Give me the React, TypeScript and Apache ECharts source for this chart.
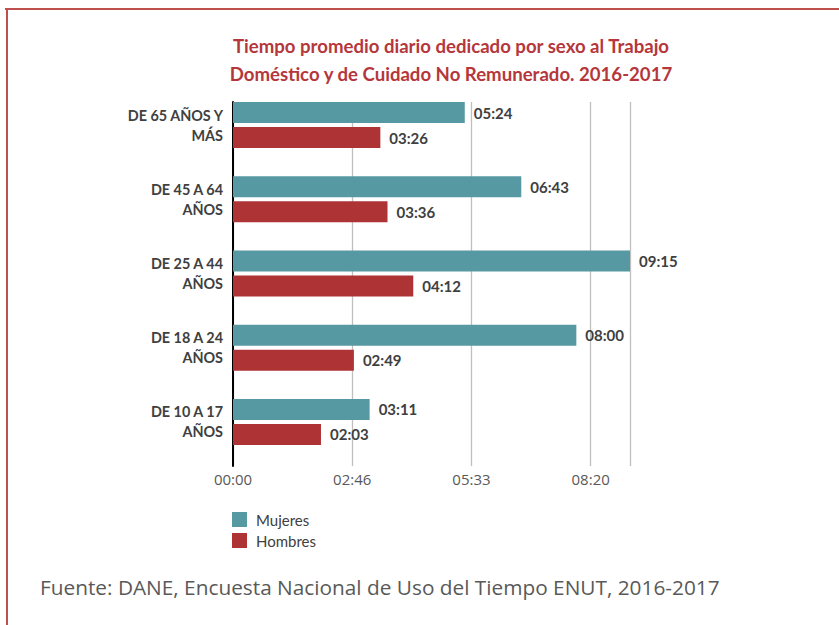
import React, { useEffect, useRef } from "react";
import * as echarts from "echarts";

// Categories (top to bottom)
const categories = [
  "DE 65 AÑOS Y\nMÁS",
  "DE 45 A 64\nAÑOS",
  "DE 25 A 44\nAÑOS",
  "DE 18 A 24\nAÑOS",
  "DE 10 A 17\nAÑOS",
];
// Values as "HH:MM"
const mujeres = ["05:24", "06:43", "09:15", "08:00", "03:11"];
const hombres = ["03:26", "03:36", "04:12", "02:49", "02:03"];
const axisMax = "09:15";
const tickInterval = 10000; // seconds (02:46:40)

const toSec = (s: string) => {
  const [h, m] = s.split(":").map(Number);
  return h * 3600 + m * 60;
};
const fmt = (sec: number) => {
  const h = Math.floor(sec / 3600);
  const m = Math.floor((sec % 3600) / 60);
  return String(h).padStart(2, "0") + ":" + String(m).padStart(2, "0");
};

const TEAL = "#5799a3";
const RED = "#ae3334";
const TEXT = "#404040";

export default function App() {
  const ref = useRef<HTMLDivElement>(null);
  useEffect(() => {
    const chart = echarts.init(ref.current!, null, { renderer: "svg" });
    const maxSec = toSec(axisMax);
    const labelStyle = {
      show: true,
      position: "right" as const,
      distance: 9,
      formatter: (p: any) => fmt(p.value),
      color: TEXT,
      fontFamily: "Lato",
      fontWeight: "bold" as const,
      fontSize: 15,
    };
    chart.setOption({
      animation: false,
      backgroundColor: "#ffffff",
      title: {
        text: "Tiempo promedio diario dedicado por sexo al Trabajo\nDoméstico y de Cuidado No Remunerado. 2016-2017",
        left: 446,
        top: 27,
        textAlign: "center",
        textStyle: {
          color: "#b5373b",
          fontFamily: "Lato",
          fontWeight: "bold",
          fontSize: 18.6,
          lineHeight: 28,
        },
      },
      legend: {
        data: ["Mujeres", "Hombres"],
        orient: "vertical",
        left: 232,
        top: 512,
        padding: 0,
        itemWidth: 15,
        itemHeight: 15,
        itemGap: 6,
        icon: "rect",
        textStyle: {
          color: TEXT,
          fontFamily: "Lato",
          fontSize: 15,
          padding: [0, 0, 0, 4],
        },
      },
      graphic: [
        {
          type: "line",
          shape: { x1: 5, y1: 9, x2: 839, y2: 9 },
          style: { stroke: "#c0504d", lineWidth: 2 },
        },
        {
          type: "line",
          shape: { x1: 7, y1: 8, x2: 7, y2: 625 },
          style: { stroke: "#c0504d", lineWidth: 2 },
        },
        {
          type: "text",
          left: 40,
          top: 576,
          style: {
            text: "Fuente: DANE, Encuesta Nacional de Uso del Tiempo ENUT, 2016-2017",
            fill: "#595959",
            fontFamily: "Open Sans",
            fontSize: 20.8,
          },
        },
      ],
      grid: [
        { left: 233, right: 209, top: 88, height: 371 },
        { left: 233, right: 209, top: 102, height: 364 },
      ],
      xAxis: [
        {
          gridIndex: 0,
          type: "value",
          min: 0,
          max: maxSec,
          show: false,
          splitLine: { show: false },
        },
        {
          gridIndex: 1,
          type: "value",
          min: 0,
          max: maxSec,
          interval: tickInterval,
          axisLine: { show: false },
          axisTick: { show: false },
          splitLine: { show: true, lineStyle: { color: "#bfbfbf", width: 1.3 } },
          axisLabel: {
            showMaxLabel: false,
            formatter: (v: number) => (v >= maxSec ? "" : fmt(v)),
            color: "#595959",
            fontFamily: "Open Sans",
            fontSize: 15,
            margin: 5,
          },
        },
      ],
      yAxis: [
        {
          gridIndex: 0,
          type: "category",
          data: categories,
          inverse: true,
          axisLine: { show: false },
          axisTick: { show: false },
          axisLabel: {
            color: TEXT,
            fontFamily: "Lato",
            fontWeight: "bold",
            fontSize: 14.4,
            lineHeight: 20,
            align: "right",
            margin: 10,
          },
        },
        {
          gridIndex: 1,
          type: "category",
          data: categories,
          inverse: true,
          axisLine: { show: true, lineStyle: { color: "#000000", width: 2 } },
          axisTick: { show: false },
          axisLabel: { show: false },
          splitLine: { show: false },
        },
      ],
      series: [
        {
          name: "Mujeres",
          type: "bar",
          xAxisIndex: 0,
          yAxisIndex: 0,
          data: mujeres.map(toSec),
          barWidth: 21,
          barGap: "19%",
          itemStyle: { color: TEAL },
          label: labelStyle,
          z: 3,
        },
        {
          name: "Hombres",
          type: "bar",
          xAxisIndex: 0,
          yAxisIndex: 0,
          data: hombres.map(toSec),
          barWidth: 21,
          barGap: "19%",
          itemStyle: { color: RED },
          label: labelStyle,
          z: 3,
        },
      ],
    });
    return () => chart.dispose();
  }, []);
  return (
    <div
      ref={ref}
      style={{ position: "fixed", left: 0, top: 0, width: 839, height: 625 }}
    />
  );
}
